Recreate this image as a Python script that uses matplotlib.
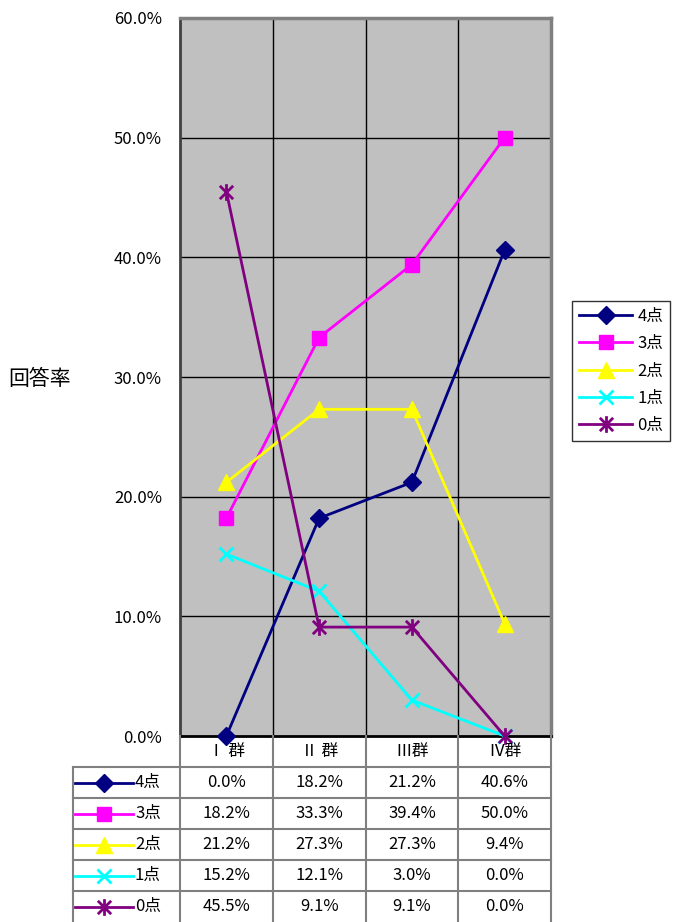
import matplotlib.pyplot as plt
from matplotlib.path import Path
from matplotlib.lines import Line2D

plt.rcParams['font.family'] = ['Noto Sans CJK JP', 'DejaVu Sans']

# data
groups = ['Ⅰ 群', 'Ⅱ 群', 'Ⅲ群', 'Ⅳ群']
labels = ['4点', '3点', '2点', '1点', '0点']
pt4 = [0.0, 18.2, 21.2, 40.6]
pt3 = [18.2, 33.3, 39.4, 50.0]
pt2 = [21.2, 27.3, 27.3, 9.4]
pt1 = [15.2, 12.1, 3.0, 0.0]
pt0 = [45.5, 9.1, 9.1, 0.0]
series = [pt4, pt3, pt2, pt1, pt0]

# asterisk marker: vertical bar plus an x
asterisk = Path([(0, -1), (0, 1), (-0.8, -0.8), (0.8, 0.8), (-0.8, 0.8), (0.8, -0.8)],
                [Path.MOVETO, Path.LINETO, Path.MOVETO, Path.LINETO, Path.MOVETO, Path.LINETO])

styles = [
    dict(color='#000080', marker='D', ms=9),
    dict(color='#FF00FF', marker='s', ms=10),
    dict(color='#FFFF00', marker='^', ms=11),
    dict(color='#00FFFF', marker='x', ms=10, mew=2),
    dict(color='#800080', marker=asterisk, ms=12, mew=2),
]

FS = 12
W, H = 677, 922
fig = plt.figure(figsize=(W / 100, H / 100), dpi=100)

px_l, px_r, px_t, px_b = 180, 551, 18, 736
ax = fig.add_axes([px_l / W, 1 - px_b / H, (px_r - px_l) / W, (px_b - px_t) / H])
ax.set_facecolor('#C0C0C0')
ax.set_xlim(0, len(groups))
ax.set_ylim(0, 60)
ax.set_yticks(range(0, 61, 10))
ax.set_yticklabels([f'{v:.1f}%' for v in range(0, 61, 10)], fontsize=FS)
ax.tick_params(axis='y', length=0, pad=13)
ax.set_xticks([])
for y in range(10, 60, 10):
    ax.axhline(y, color='black', lw=1, zorder=1)
for x in range(1, len(groups)):
    ax.axvline(x, color='black', lw=1, zorder=1)
ax.spines['left'].set_color('#404040')
ax.spines['left'].set_linewidth(2)
ax.spines['bottom'].set_color('black')
ax.spines['bottom'].set_linewidth(2)
ax.spines['top'].set_color('#808080')
ax.spines['top'].set_linewidth(2.5)
ax.spines['right'].set_color('#808080')
ax.spines['right'].set_linewidth(2.5)

xs = [i + 0.5 for i in range(len(groups))]
handles = []
for vals, lab, st in zip(series, labels, styles):
    h, = ax.plot(xs, vals, lw=2, label=lab, clip_on=False, zorder=3,
                 color=st['color'], marker=st['marker'], ms=st['ms'],
                 mew=st.get('mew', 1), mfc=st['color'], mec=st['color'])
    handles.append(h)

fig.text(8 / W, 1 - 379 / H, '回答率', fontsize=15, va='center', ha='left')

leg = fig.legend(handles=handles, loc='upper left',
                 bbox_to_anchor=(572 / W, 1 - 301 / H), fontsize=FS,
                 frameon=True, fancybox=False, edgecolor='black',
                 handlelength=3.2, handletextpad=0.3, labelspacing=0.62,
                 borderpad=0.42, borderaxespad=0)
leg.get_frame().set_linewidth(1)

# data table below the plot
tab_l = 73
unit = (px_r - px_l) / len(groups)
key_w = (px_l - tab_l) / unit
tb = fig.add_axes([tab_l / W, 0, (px_r - tab_l) / W, (H - px_b) / H])
tb.set_xlim(-key_w, len(groups))
nrows = len(labels) + 1
tb.set_ylim(nrows, 0)
tb.axis('off')

lc = '#808080'
for x in range(0, len(groups) + 1):
    tb.plot([x, x], [0, nrows], color=lc, lw=1.5, clip_on=False)
tb.plot([-key_w, -key_w], [1, nrows], color=lc, lw=1.5, clip_on=False)
for r in range(1, nrows):
    tb.plot([-key_w, len(groups)], [r, r], color=lc, lw=1.5, clip_on=False)
for i, g in enumerate(groups):
    tb.text(i + 0.5, 0.5, g, ha='center', va='center', fontsize=FS)


def px2x(p):
    return (p - px_l) / unit


for r, (vals, lab, st) in enumerate(zip(series, labels, styles), start=1):
    tb.add_line(Line2D([px2x(75), px2x(133)], [r + 0.5, r + 0.5], color=st['color'], lw=2))
    tb.plot([px2x(104)], [r + 0.5], color=st['color'], marker=st['marker'], ms=st['ms'],
            mew=st.get('mew', 1), mfc=st['color'], mec=st['color'])
    tb.text(px2x(135), r + 0.5, lab, ha='left', va='center', fontsize=FS)
    for i, v in enumerate(vals):
        tb.text(i + 0.5, r + 0.5, f'{v:.1f}%', ha='center', va='center', fontsize=FS)

fig.savefig('out.png', dpi=100)
